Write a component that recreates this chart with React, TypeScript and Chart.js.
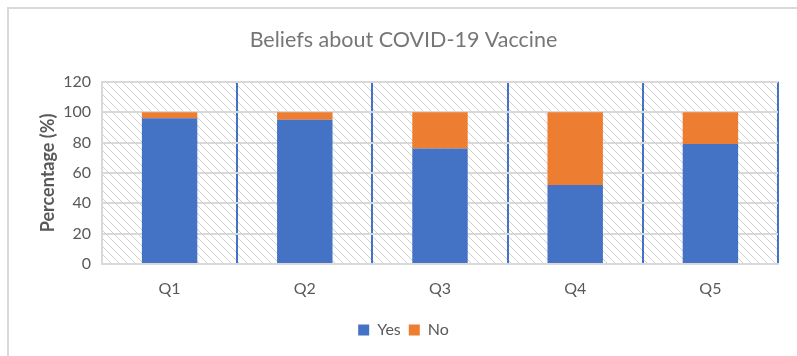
import React, { useEffect, useRef } from "react";
import { Chart, registerables } from "chart.js";

Chart.register(...registerables);

const categories = ["Q1", "Q2", "Q3", "Q4", "Q5"];
const yesValues = [96, 95, 76, 52, 79];
const noValues = [4, 5, 24, 48, 21];
const chartTitle = "Beliefs about COVID-19 Vaccine";
const yAxisTitle = "Percentage (%)";

const FONT = "Lato, 'Open Sans', sans-serif";
const TEXT = "#595959";
const GRID = "#d9d9d9";
const BLUE = "#4472C4";
const ORANGE = "#ED7D31";

function makePattern(ctx: CanvasRenderingContext2D) {
  const tile = document.createElement("canvas");
  const s = 8;
  tile.width = s;
  tile.height = s;
  const t = tile.getContext("2d")!;
  t.fillStyle = "#ffffff";
  t.fillRect(0, 0, s, s);
  t.strokeStyle = "#cfcfcf";
  t.lineWidth = 1;
  t.beginPath();
  t.moveTo(-1, -1);
  t.lineTo(s + 1, s + 1);
  t.moveTo(-1, s - 1);
  t.lineTo(1, s + 1);
  t.moveTo(s - 1, -1);
  t.lineTo(s + 1, 1);
  t.stroke();
  return ctx.createPattern(tile, "repeat");
}

const decorPlugin = {
  id: "decor",
  beforeDraw(chart: any) {
    const { ctx, chartArea } = chart;
    ctx.save();
    ctx.fillStyle = "#ffffff";
    ctx.fillRect(0, 0, chart.width, chart.height);
    const pat = makePattern(ctx);
    if (pat) {
      ctx.fillStyle = pat;
      ctx.fillRect(chartArea.left, chartArea.top, chartArea.right - chartArea.left, chartArea.bottom - chartArea.top);
    }
    ctx.strokeStyle = GRID;
    ctx.lineWidth = 2;
    ctx.strokeRect(8, 8, chart.width + 20, chart.height + 20);
    ctx.restore();
  },
};

export default function App() {
  const ref = useRef<HTMLCanvasElement | null>(null);

  useEffect(() => {
    document.body.style.margin = "0";
    if (!ref.current) return;
    const chart = new Chart(ref.current, {
      type: "bar",
      data: {
        labels: categories,
        datasets: [
          { label: "Yes", data: yesValues, backgroundColor: BLUE, borderWidth: 0 },
          { label: "No", data: noValues, backgroundColor: ORANGE, borderWidth: 0 },
        ],
      },
      options: {
        animation: false,
        responsive: false,
        devicePixelRatio: 1,
        categoryPercentage: 1,
        barPercentage: 0.41,
        layout: { padding: { left: 29, right: 19, top: 0, bottom: 8 } },
        plugins: {
          title: {
            display: true,
            text: chartTitle,
            color: "#767676",
            font: { family: FONT, size: 21.5, weight: "normal" },
            padding: { top: 27, bottom: 29 },
          },
          legend: {
            position: "bottom",
            labels: {
              boxWidth: 11,
              boxHeight: 11,
              padding: 8,
              color: TEXT,
              font: { family: FONT, size: 16 },
            },
          },
          tooltip: { enabled: false },
        },
        scales: {
          x: {
            stacked: true,
            grid: {
              offset: true,
              drawTicks: false,
              lineWidth: 2,
              color: (c: any) => (c.index === 0 ? GRID : BLUE),
            },
            border: { display: true, color: GRID, width: 2 },
            ticks: { color: TEXT, padding: 15, font: { family: FONT, size: 16 } },
            afterFit: (s: any) => {
              s.height = 50;
            },
          },
          y: {
            stacked: true,
            min: 0,
            max: 120,
            grid: { drawTicks: false, lineWidth: 2, color: GRID },
            border: { display: true, color: GRID, width: 2 },
            ticks: { stepSize: 20, color: TEXT, padding: 11, font: { family: FONT, size: 16 } },
            title: {
              display: true,
              text: yAxisTitle,
              color: TEXT,
              font: { family: FONT, size: 18, weight: "bold" },
              padding: { top: 8, bottom: 0 },
            },
            afterFit: (s: any) => {
              s.width = 73;
            },
          },
        },
      },
      plugins: [decorPlugin],
    });
    return () => chart.destroy();
  }, []);

  return (
    <div style={{ width: 797, height: 356 }}>
      <canvas ref={ref} width={797} height={356} style={{ display: "block" }} />
    </div>
  );
}
